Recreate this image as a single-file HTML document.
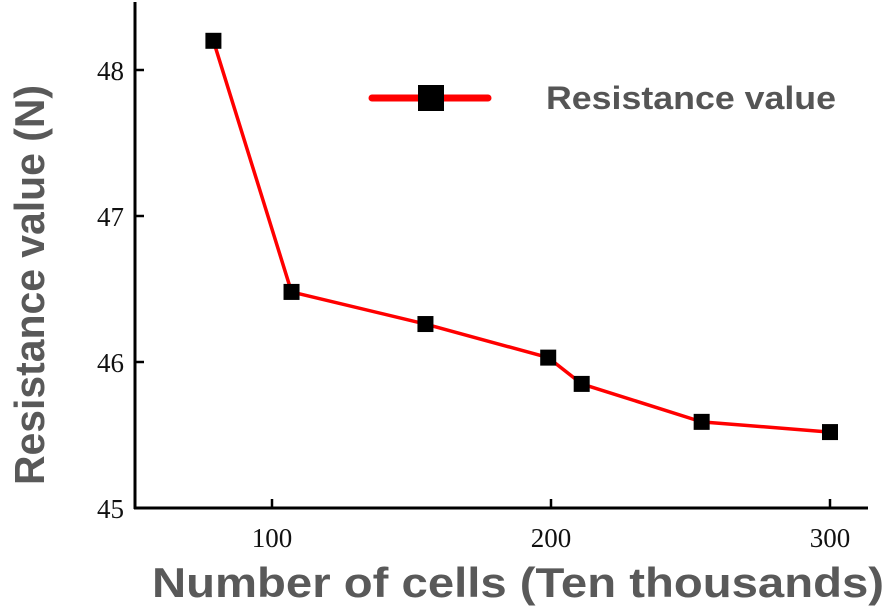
<!DOCTYPE html>
<html><head><meta charset="utf-8"><style>
html,body{margin:0;padding:0;background:#fff;width:886px;height:611px;overflow:hidden}
svg text{font-family:"Liberation Serif",serif}
</style></head><body>
<svg id="chart" width="886" height="611">
<g id="axes"></g><g id="series"></g>
<g>
<line x1="372" y1="98" x2="488" y2="98" stroke="#ff0000" stroke-width="7" stroke-linecap="round"/>
<rect x="418" y="85" width="26" height="26" fill="#000"/>
<text x="546" y="109" font-size="32" font-weight="bold" fill="#555" textLength="290" lengthAdjust="spacingAndGlyphs" style="font-family:'Liberation Sans',sans-serif">Resistance value</text>
</g>
<text x="152" y="597" font-size="42" font-weight="bold" fill="#595959" textLength="732" lengthAdjust="spacingAndGlyphs" style="font-family:'Liberation Sans',sans-serif">Number of cells (Ten thousands)</text>
<text transform="translate(44,485) rotate(-90)" font-size="42" font-weight="bold" fill="#595959" textLength="400" lengthAdjust="spacingAndGlyphs" style="font-family:'Liberation Sans',sans-serif">Resistance value (N)</text>
</svg>
<script>
const cells=[79,107,155,199,211,254,300];
const resistance=[48.2,46.48,46.26,46.03,45.85,45.59,45.52];
const xTicks=[100,200,300];
const yTicks=[45,46,47,48];
const ns="http://www.w3.org/2000/svg";
const X=v=>272+(v-100)*2.79;
const Y=v=>508-(v-45)*146;
function mk(t,a,p){const e=document.createElementNS(ns,t);for(const k in a)e.setAttribute(k,a[k]);p.appendChild(e);return e;}
const ax=document.getElementById('axes'),se=document.getElementById('series');
let l=mk('line',{x1:135,y1:2,x2:135,y2:509,stroke:'#000','stroke-width':3},ax);


l=mk('line',{x1:134,y1:508,x2:868,y2:508,stroke:'#000','stroke-width':3},ax);


xTicks.forEach(v=>{
 const t=mk('line',{x1:X(v),y1:508,x2:X(v),y2:499,stroke:'#000','stroke-width':2.5},ax);
 
 
 const tx=mk('text',{x:X(v),y:547,'text-anchor':'middle','font-size':27,fill:'#111'},ax);tx.textContent=v;
 
 
});
yTicks.forEach(v=>{
 const t=mk('line',{x1:135,y1:Y(v),x2:144,y2:Y(v),stroke:'#000','stroke-width':2.5},ax);
 
 
 const tx=mk('text',{x:124,y:Y(v)+10,'text-anchor':'end','font-size':27,fill:'#111'},ax);tx.textContent=v;
 
 
});
const pl=mk('polyline',{points:cells.map((c,i)=>X(c)+','+Y(resistance[i])).join(' '),fill:'none',stroke:'#ff0000','stroke-width':3.5,'stroke-linejoin':'round'},se);


cells.forEach((c,i)=>{
 const r=mk('rect',{x:X(c)-8,y:Y(resistance[i])-8,width:16,height:16,fill:'#000'},se);
 
 
});
</script>
</body></html>
